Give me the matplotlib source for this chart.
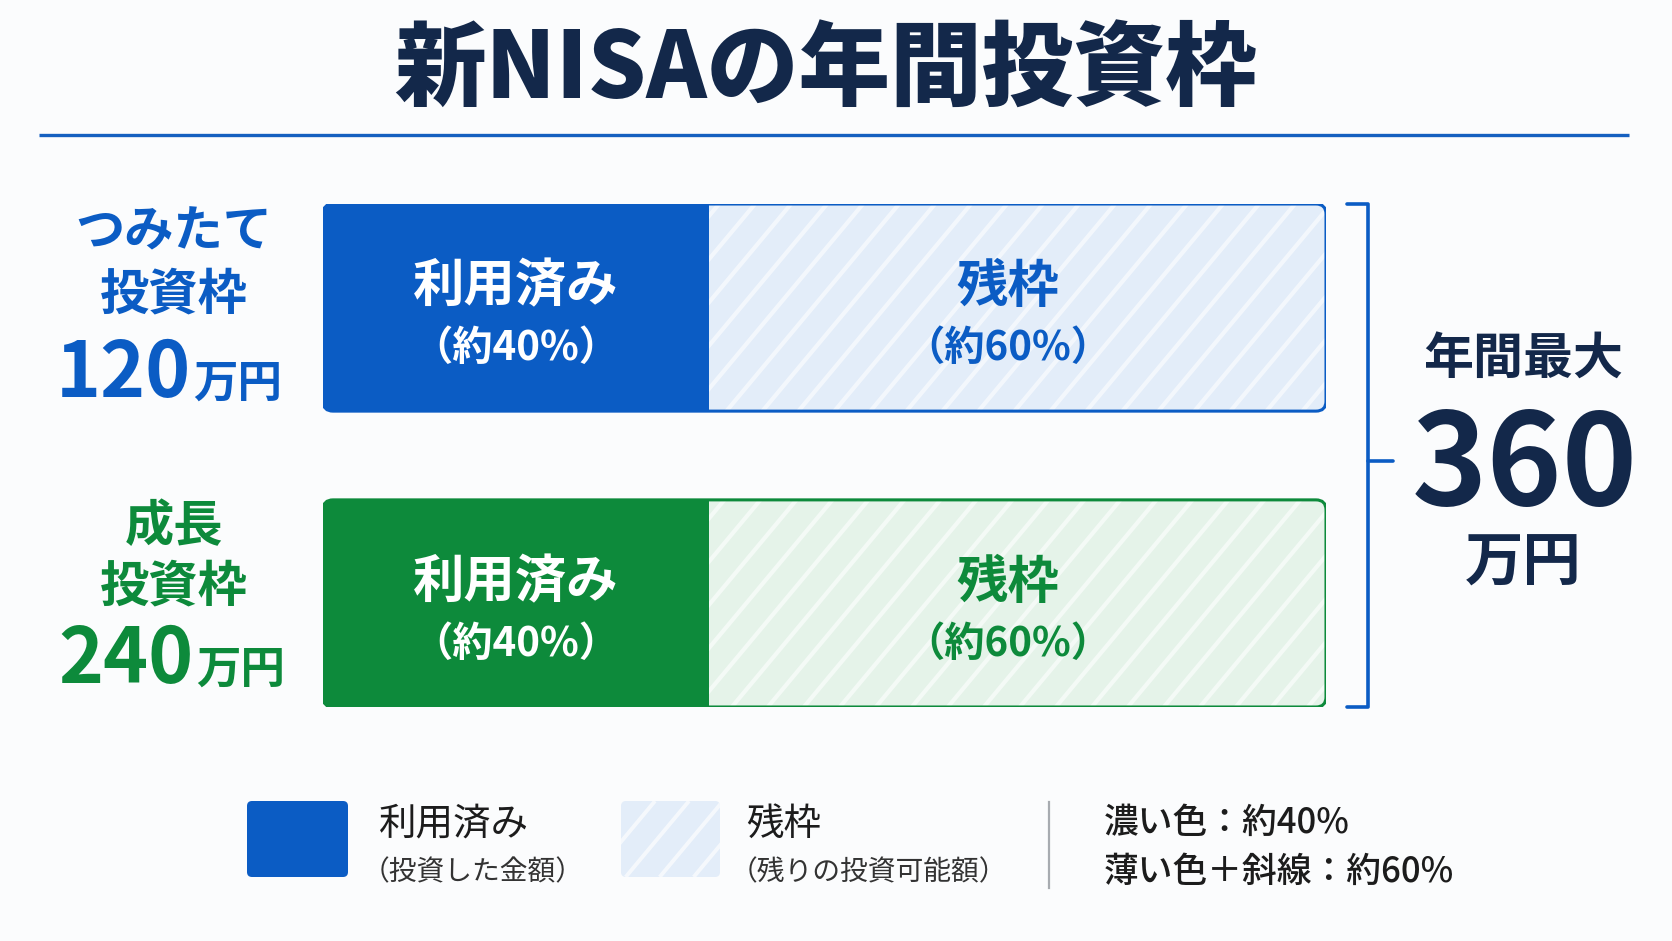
import numpy as np
import matplotlib
matplotlib.use('Agg')
import matplotlib.pyplot as plt
from matplotlib.patches import FancyBboxPatch
from matplotlib.collections import LineCollection

plt.rcParams['font.family'] = ['Noto Sans CJK JP', 'DejaVu Sans']

# ---------------- data ----------------
title = '新NISAの年間投資枠'
frame_lines = [['つみたて', '投資枠'], ['成長', '投資枠']]
frame_limit = [120, 240]          # 万円
total_limit = 360                 # 万円
used_share = [38.5, 38.5]         # share of bar drawn as used (label: 約40%)
remaining_share = [61.5, 61.5]    # share of bar drawn as remaining (label: 約60%)
used_label = ['（約40%）', '（約40%）']
remaining_label = ['（約60%）', '（約60%）']
segment_names = ['利用済み', '残枠']
legend_notes = ['（投資した金額）', '（残りの投資可能額）']
share_notes = ['濃い色：約40%', '薄い色＋斜線：約60%']

# ---------------- style ----------------
BLUE = '#0b5cc4'
GREEN = '#0d8a3b'
DARKS = [BLUE, GREEN]
LIGHTS = ['#e3edf9', '#e5f3e9']
NAVY = '#13284a'
TXT = '#1c1c1c'

W, H = 1672, 941
fig = plt.figure(figsize=(W / 100, H / 100), dpi=100)
fig.patch.set_facecolor('#fbfcfd')

# overlay axes in pixel coordinates
ov = fig.add_axes([0, 0, 1, 1], zorder=3)
ov.set_xlim(0, W)
ov.set_ylim(H, 0)
ov.axis('off')

# bar axes
BX0, BX1, BY0, BY1 = 323, 1326, 204, 707
axb = fig.add_axes([BX0 / W, 1 - BY1 / H, (BX1 - BX0) / W, (BY1 - BY0) / H], zorder=1)
axb.set_xlim(0, 100)
axb.set_ylim(1.35, -0.35)
axb.axis('off')
bar_h = 0.7
px_x = (BX1 - BX0) / 100.0
px_y = (BY1 - BY0) / 1.7
aspect = px_x / px_y

# title and rule
ov.text(825, 71, title, ha='center', va='center', fontsize=66,
        fontweight='heavy', color=NAVY)
ov.plot([39, 1629], [135, 135], color='#1560c0', lw=2.4, solid_capstyle='butt')


def hatch_lines(x0, x1, y0, y1, spacing=36, slope=1.2):
    hgt = y1 - y0
    run = hgt / slope
    segs = [[(x, y1), (x + run, y0)] for x in np.arange(x0 - run, x1 + spacing, spacing)]
    return segs


for i in range(2):
    box = FancyBboxPatch((0, i - bar_h / 2), used_share[i] + remaining_share[i], bar_h,
                         boxstyle='round,pad=0,rounding_size=1.0', mutation_aspect=aspect,
                         facecolor='none', edgecolor=DARKS[i], lw=2.2, zorder=5)
    axb.add_patch(box)
    used = axb.barh(i, used_share[i], height=bar_h, color=DARKS[i], zorder=2)
    rem = axb.barh(i, remaining_share[i], left=used_share[i], height=bar_h,
                   color=LIGHTS[i], zorder=2)
    for p in list(used) + list(rem):
        p.set_clip_path(box)
    # diagonal stripes on remaining part (drawn below the text)
    lc = LineCollection(hatch_lines(BX0, BX1, BY0, BY1), colors='white', linewidths=3.0,
                        alpha=0.6, zorder=3, transform=ov.transData)
    axb.add_collection(lc, autolim=False)
    lc.set_clip_path(rem[0])

    # in-bar text
    axb.text(used_share[i] / 2, i - 0.072, segment_names[0], ha='center', va='center',
             fontsize=37, fontweight='bold', color='white', zorder=6)
    axb.text(used_share[i] / 2, i + 0.138, used_label[i], ha='center', va='center',
             fontsize=29, fontweight='bold', color='white', zorder=6)
    cx = used_share[i] + remaining_share[i] / 2
    axb.text(cx - 1.0, i - 0.072, segment_names[1], ha='center', va='center',
             fontsize=37, fontweight='bold', color=DARKS[i], zorder=6)
    axb.text(cx - 1.0, i + 0.138, remaining_label[i], ha='center', va='center',
             fontsize=29, fontweight='bold', color=DARKS[i], zorder=6)

# left labels
label_y = [(232, 295, 397), (527, 587, 683)]
num_x = [191, 194]
for i in range(2):
    y1, y2, yb = label_y[i]
    ov.text(174, y1, frame_lines[i][0], ha='center', va='center', fontsize=35.5,
            fontweight='bold', color=DARKS[i])
    ov.text(174, y2, frame_lines[i][1], ha='center', va='center', fontsize=35.5,
            fontweight='bold', color=DARKS[i])
    ov.text(num_x[i], yb, f'{frame_limit[i]}', ha='right', va='baseline', fontsize=55,
            fontweight='bold', color=DARKS[i])
    ov.text(num_x[i] + 2, yb, '万円', ha='left', va='baseline', fontsize=32,
            fontweight='bold', color=DARKS[i])

# bracket
ov.plot([1347, 1368, 1368, 1347], [204, 204, 707, 707], color=BLUE, lw=2.6,
        solid_joinstyle='round', solid_capstyle='round')
ov.plot([1368, 1393], [461, 461], color=BLUE, lw=2.6, solid_capstyle='round')

# right total
ov.text(1523, 360, '年間最大', ha='center', va='center', fontsize=36,
        fontweight='bold', color=NAVY)
ov.text(1525, 505, f'{total_limit}', ha='center', va='baseline', fontsize=92,
        fontweight='bold', color=NAVY)
ov.text(1523, 564, '万円', ha='center', va='center', fontsize=42,
        fontweight='bold', color=NAVY)

# legend
sq1 = FancyBboxPatch((247, 801), 101, 76, boxstyle='round,pad=0,rounding_size=5',
                     facecolor=BLUE, edgecolor='none', zorder=2)
ov.add_patch(sq1)
sq2 = FancyBboxPatch((621, 801), 99, 76, boxstyle='round,pad=0,rounding_size=5',
                     facecolor=LIGHTS[0], edgecolor='none', zorder=2)
ov.add_patch(sq2)
lc = LineCollection(hatch_lines(621, 720, 801, 877, spacing=34), colors='white',
                    linewidths=2.8, alpha=0.65, zorder=3)
ov.add_collection(lc, autolim=False)
lc.set_clip_path(sq2)

ov.text(379, 824, segment_names[0], ha='left', va='center', fontsize=27, color=TXT)
ov.text(362, 872, legend_notes[0], ha='left', va='center', fontsize=20, color='#333333')
ov.text(746, 824, segment_names[1], ha='left', va='center', fontsize=27, color=TXT)
ov.text(730, 872, legend_notes[1], ha='left', va='center', fontsize=20, color='#333333')

ov.plot([1049, 1049], [802, 888], color='#a7abb0', lw=1.6)
ov.text(1104, 823, share_notes[0], ha='left', va='center', fontsize=25,
        fontweight='medium', color=TXT)
ov.text(1104, 872, share_notes[1], ha='left', va='center', fontsize=25,
        fontweight='medium', color=TXT)

fig.savefig('out.png', dpi=100, facecolor=fig.get_facecolor())
